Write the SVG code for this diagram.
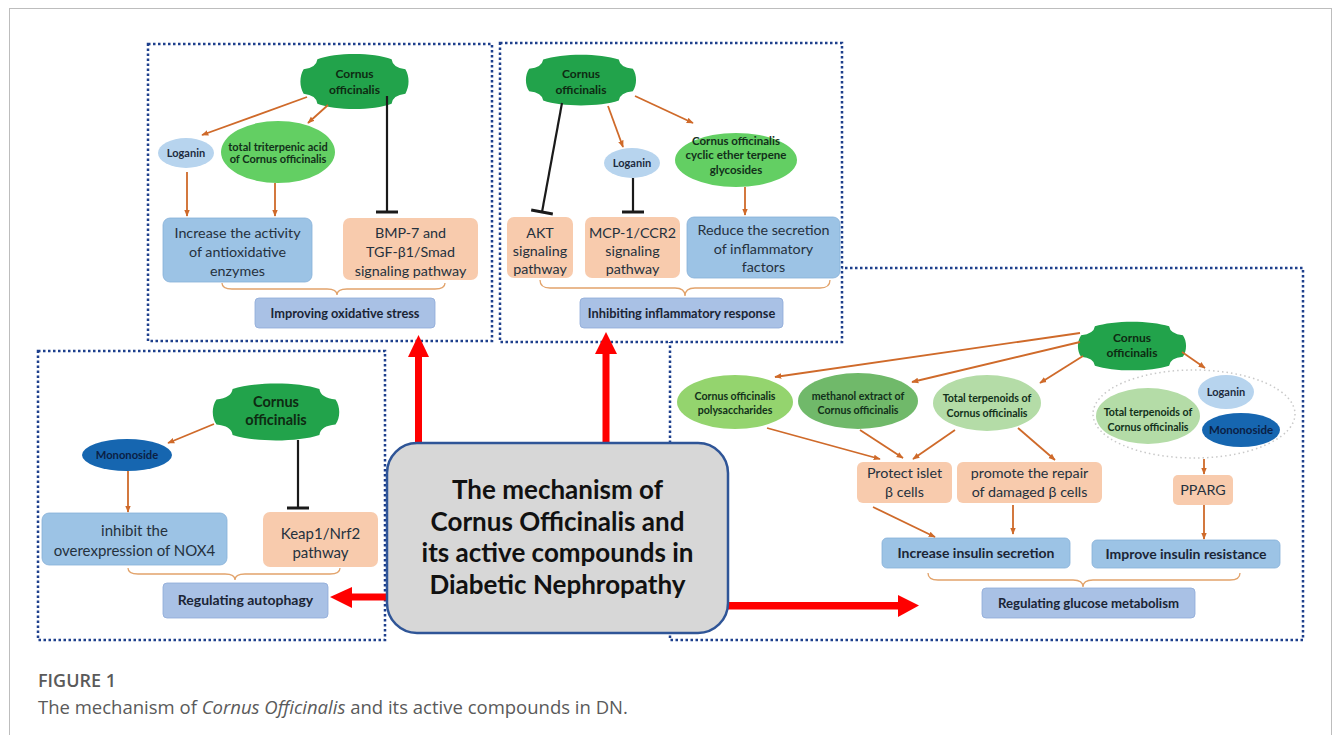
<svg xmlns="http://www.w3.org/2000/svg" xmlns:xlink="http://www.w3.org/1999/xlink" width="1333" height="735" viewBox="0 0 1333 735">
<defs>
<style>
.dot{fill:#fff;stroke:#1d3f8c;stroke-width:2.5;stroke-dasharray:2.5 2.5}
.peach{fill:#f8cbad}
.blue{fill:#9cc3e5;stroke:#86b0d8;stroke-width:0.8}
.lab{fill:#a9c1e5;stroke:#8eaad8;stroke-width:0.8}
.ff{font-family:Lato,"Liberation Sans",sans-serif;text-anchor:middle}
.t{font-size:14.3px;fill:#25313d}
.t2{font-size:15px;fill:#25313d}
.b{font-size:12.8px;font-weight:700;fill:#1b2535}
.s{font-size:11px;font-weight:700;fill:#12301a}
.sb{font-size:11px;font-weight:700;fill:#1d2b3f}
.co{font-size:12px;font-weight:700;fill:#0e2a12}
.oa{stroke:#cf6a2a;stroke-width:1.8;fill:none;marker-end:url(#ao)}
.inh{stroke:#1a1a1a;stroke-width:2.2;fill:none;marker-end:url(#tb)}
.br{stroke:#e2a36b;stroke-width:1.3;fill:none}
.red{fill:#ff0000}
.cof{fill:#22a34b}
.big{font-size:26px;font-weight:700;fill:#111}
.cap{font-family:"Open Sans","Liberation Sans",sans-serif;fill:#5a5a5a}
</style>
<marker id="ao" viewBox="0 0 10 10" refX="9" refY="5" markerWidth="7" markerHeight="7" markerUnits="userSpaceOnUse" orient="auto"><path d="M0,1 L10,5 L0,9 z" fill="#cf6a2a"/></marker>
<marker id="tb" viewBox="0 0 4 22" refX="2" refY="11" markerWidth="4" markerHeight="22" markerUnits="userSpaceOnUse" orient="auto"><rect x="0.5" y="0" width="3" height="22" fill="#1a1a1a"/></marker>
<path id="plaque" d="M-0.7,-0.82 C-0.35,-1.08 0.35,-1.08 0.7,-0.82 Q0.72,-0.5 0.96,-0.45 C1.04,-0.2 1.04,0.2 0.96,0.45 Q0.72,0.5 0.7,0.82 C0.35,1.08 -0.35,1.08 -0.7,0.82 Q-0.72,0.5 -0.96,0.45 C-1.04,0.2 -1.04,-0.2 -0.96,-0.45 Q-0.72,-0.5 -0.7,-0.82 Z"/>
</defs>
<rect x="0" y="0" width="1333" height="735" fill="#fff"/>
<rect x="9.5" y="8.5" width="1322" height="740" fill="none" stroke="#bdbdbd" stroke-width="1"/>

<!-- panels -->
<g id="panels">
<rect class="dot" x="670" y="268" width="633" height="372"/>
<rect class="dot" x="38" y="351" width="347" height="289"/>
<rect class="dot" x="148" y="44" width="344" height="297"/>
<rect class="dot" x="500" y="43" width="342" height="299"/>
</g>

<!-- Top-left panel nodes -->
<g id="tl-co"><use xlink:href="#plaque" class="cof" transform="translate(354.5,81.5) scale(53,27)"/>
<text class="ff co" x="354.5" y="77.5">Cornus</text><text class="ff co" x="354.5" y="93.5">officinalis</text></g>
<g id="tl-loganin"><ellipse cx="186" cy="153" rx="28" ry="15" fill="#b7d4ee"/><text class="ff sb" x="186" y="157">Loganin</text></g>
<g id="tl-triterpenic"><ellipse cx="278" cy="152" rx="57" ry="31" fill="#63cf63"/>
<text class="ff s" x="278" y="151">total triterpenic acid</text><text class="ff s" x="278" y="163">of Cornus officinalis</text></g>
<g id="tl-increase"><rect class="blue" x="163" y="218" width="149" height="64" rx="7"/>
<text class="ff t" x="237.5" y="238">Increase the activity</text><text class="ff t" x="237.5" y="257">of antioxidative</text><text class="ff t" x="237.5" y="276">enzymes</text></g>
<g id="tl-bmp"><rect class="peach" x="343" y="218" width="135" height="62" rx="7"/>
<text class="ff t" x="410.5" y="238">BMP-7 and</text><text class="ff t" x="410.5" y="257">TGF-β1/Smad</text><text class="ff t" x="410.5" y="276">signaling pathway</text></g>
<g id="tl-label"><rect class="lab" x="255" y="298" width="180" height="30" rx="4"/><text class="ff b" x="345" y="317.5">Improving oxidative stress</text></g>

<!-- Top-middle panel nodes -->
<g id="tm-co"><use xlink:href="#plaque" class="cof" transform="translate(581,80) scale(54,25)"/>
<text class="ff co" x="581" y="77.5">Cornus</text><text class="ff co" x="581" y="94">officinalis</text></g>
<g id="tm-loganin"><ellipse cx="632" cy="163" rx="28" ry="15" fill="#b7d4ee"/><text class="ff sb" x="632" y="167">Loganin</text></g>
<g id="tm-cyclic"><ellipse cx="736" cy="160" rx="61" ry="27" fill="#63cf63"/>
<text class="ff s" style="font-size:11.5px" x="736" y="144.5">Cornus officinalis</text><text class="ff s" style="font-size:11.5px" x="736" y="159">cyclic ether terpene</text><text class="ff s" style="font-size:11.5px" x="736" y="174">glycosides</text></g>
<g id="tm-akt"><rect class="peach" x="507" y="217" width="66" height="61" rx="7"/>
<text class="ff t" x="540" y="238">AKT</text><text class="ff t" x="540" y="256">signaling</text><text class="ff t" x="540" y="273.5">pathway</text></g>
<g id="tm-mcp"><rect class="peach" x="585" y="217" width="95" height="61" rx="7"/>
<text class="ff t" x="632.5" y="238">MCP-1/CCR2</text><text class="ff t" x="632.5" y="256">signaling</text><text class="ff t" x="632.5" y="273.5">pathway</text></g>
<g id="tm-reduce"><rect class="blue" x="687" y="217" width="153" height="61" rx="7"/>
<text class="ff t" x="763.5" y="235">Reduce the secretion</text><text class="ff t" x="763.5" y="253.5">of inflammatory</text><text class="ff t" x="763.5" y="272">factors</text></g>
<g id="tm-label"><rect class="lab" x="580" y="298" width="203" height="30" rx="4"/><text class="ff b" x="681.5" y="317.5">Inhibiting inflammatory response</text></g>

<!-- Bottom-left panel nodes -->
<g id="bl-co"><use xlink:href="#plaque" class="cof" transform="translate(276,412) scale(62,28)"/>
<text class="ff co" style="font-size:14.5px" x="276" y="407">Cornus</text><text class="ff co" style="font-size:14.5px" x="276" y="425">officinalis</text></g>
<g id="bl-mononoside"><ellipse cx="127" cy="455" rx="45" ry="16" fill="#1666b0"/><text class="ff sb" style="fill:#0b1f45;font-size:11.2px" x="127" y="459">Mononoside</text></g>
<g id="bl-inhibit"><rect class="blue" x="42" y="513" width="185" height="52" rx="7"/>
<text class="ff t2" x="134.5" y="535.5">inhibit the</text><text class="ff t2" x="134.5" y="555.5">overexpression of NOX4</text></g>
<g id="bl-keap"><rect class="peach" x="263" y="512" width="115" height="55" rx="7"/>
<text class="ff t2" x="320.5" y="538.5">Keap1/Nrf2</text><text class="ff t2" x="320.5" y="557.5">pathway</text></g>
<g id="bl-label"><rect class="lab" x="163" y="583" width="165" height="35" rx="4"/><text class="ff b" style="font-size:14px" x="245.5" y="605">Regulating autophagy</text></g>

<!-- Right panel nodes -->
<g id="r-co"><use xlink:href="#plaque" class="cof" transform="translate(1132,346) scale(53,24)"/>
<text class="ff co" x="1132" y="341.5">Cornus</text><text class="ff co" x="1132" y="356.5">officinalis</text></g>
<g id="r-poly"><ellipse cx="735" cy="402" rx="58" ry="27" fill="#94d46e"/>
<text class="ff s" style="font-size:10.6px" x="735" y="400">Cornus officinalis</text><text class="ff s" style="font-size:10.6px" x="735" y="414">polysaccharides</text></g>
<g id="r-methanol"><ellipse cx="858" cy="401" rx="60" ry="28" fill="#70b96a"/>
<text class="ff s" style="font-size:10.6px" x="858" y="400">methanol extract of</text><text class="ff s" style="font-size:10.6px" x="858" y="414">Cornus officinalis</text></g>
<g id="r-terp"><ellipse cx="987" cy="403" rx="54" ry="28" fill="#b4dca7"/>
<text class="ff s" style="font-size:10.6px" x="987" y="402">Total terpenoids of</text><text class="ff s" style="font-size:10.6px" x="987" y="417">Cornus officinalis</text></g>
<g id="r-group"><ellipse cx="1194" cy="414" rx="101" ry="44" fill="none" stroke="#c9c9c9" stroke-width="1.5" stroke-dasharray="1.5 3"/>
<ellipse cx="1148" cy="416" rx="52" ry="28" fill="#b4dca7"/>
<text class="ff s" style="font-size:10.6px" x="1148" y="416">Total terpenoids of</text><text class="ff s" style="font-size:10.6px" x="1148" y="431">Cornus officinalis</text>
<ellipse cx="1226" cy="392" rx="28" ry="17" fill="#b7d4ee"/><text class="ff sb" x="1226" y="396">Loganin</text>
<ellipse cx="1241" cy="430" rx="39" ry="17" fill="#1666b0"/><text class="ff sb" style="fill:#0b1f45;font-size:11.5px" x="1241" y="434">Mononoside</text></g>
<g id="r-protect"><rect class="peach" x="857" y="462" width="95" height="41" rx="6"/>
<text class="ff t" x="904.5" y="478">Protect islet</text><text class="ff t" x="904.5" y="497">β cells</text></g>
<g id="r-promote"><rect class="peach" x="957" y="462" width="145" height="41" rx="6"/>
<text class="ff t" x="1029.5" y="478">promote the repair</text><text class="ff t" x="1029.5" y="497">of damaged β cells</text></g>
<g id="r-pparg"><rect class="peach" x="1173" y="475" width="60" height="30" rx="5"/><text class="ff t" x="1203" y="495">PPARG</text></g>
<g id="r-secretion"><rect class="blue" x="882" y="538" width="188" height="30" rx="5"/><text class="ff b" style="font-size:14px" x="976" y="558">Increase insulin secretion</text></g>
<g id="r-resistance"><rect class="blue" x="1092" y="540" width="188" height="28" rx="5"/><text class="ff b" style="font-size:14px" x="1186" y="559">Improve insulin resistance</text></g>
<g id="r-label"><rect class="lab" x="982" y="588" width="213" height="30" rx="4"/><text class="ff b" style="font-size:13.2px" x="1088.5" y="607.5">Regulating glucose metabolism</text></g>

<!-- Connectors -->
<g id="connectors">
<path class="oa" d="M307,97 L202,135"/>
<path class="oa" d="M328,105 L308,123"/>
<path class="oa" d="M187,172 L187,216"/>
<path class="oa" d="M275,183 L275,216"/>
<path class="inh" d="M387,96 L387,212"/>

<path class="inh" d="M562,103 L542,212"/>
<path class="oa" d="M608,106 L623,147"/>
<path class="oa" d="M635,96 L693,123"/>
<path class="inh" d="M633,178 L633,212"/>
<path class="oa" d="M745,187 L745,215"/>

<path class="oa" d="M214,424 L168,443"/>
<path class="inh" d="M298,440 L298,508"/>
<path class="oa" d="M128,471 L128,512"/>

<path class="oa" d="M1080,333 L775,377"/>
<path class="oa" d="M1080,342 L912,382"/>
<path class="oa" d="M1083,356 L1040,383"/>
<path class="oa" d="M1182,352 L1205,368"/>
<path class="oa" d="M767,428 L880,459"/>
<path class="oa" d="M860,430 L903,458"/>
<path class="oa" d="M955,430 L913,459"/>
<path class="oa" d="M1018,428 L1055,460"/>
<path class="oa" d="M873,507 L935,537"/>
<path class="oa" d="M1013,505 L1013,534"/>
<path class="oa" d="M1204,459 L1204,474"/>
<path class="oa" d="M1204,505 L1204,539"/>

<path class="br" d="M222,283 Q222,289 232,289 L327,289 Q337,289 337,295 Q337,289 347,289 L435,289 Q445,289 445,283"/>
<path class="br" d="M540,280 Q540,288 550,288 L675,288 Q685,288 685,296 Q685,288 695,288 L820,288 Q830,288 830,280"/>
<path class="br" d="M128,568 Q128,574 138,574 L225,574 Q235,574 235,580 Q235,574 245,574 L330,574 Q340,574 340,568"/>
<path class="br" d="M928,573 Q928,580 938,580 L1073,580 Q1083,580 1083,587 Q1083,580 1093,580 L1230,580 Q1240,580 1240,573"/>

<rect class="red" x="415" y="355" width="7" height="90"/>
<polygon class="red" points="408,357 418.5,335 429,357"/>
<rect class="red" x="602.5" y="352" width="7" height="93"/>
<polygon class="red" points="595,354 606,332 617,354"/>
<rect class="red" x="350" y="593.5" width="40" height="7"/>
<polygon class="red" points="352,587 330,597 352,608"/>
<rect class="red" x="725" y="602" width="175" height="7.5"/>
<polygon class="red" points="898,595 919,605.5 898,617"/>
</g>

<!-- Center node -->
<g id="center">
<rect x="387" y="443" width="341" height="190" rx="30" fill="#d7d7d7" stroke="#2f5597" stroke-width="2.5"/>
<text class="ff big" x="557.5" y="499">The mechanism of</text>
<text class="ff big" x="557.5" y="531">Cornus Officinalis and</text>
<text class="ff big" x="557.5" y="562">its active compounds in</text>
<text class="ff big" x="557.5" y="594">Diabetic Nephropathy</text>
</g>

<!-- Caption -->
<g id="caption">
<text class="cap" x="38" y="687" style="font-size:18px;font-weight:600">FIGURE 1</text>
<text class="cap" x="38" y="713.5" style="font-size:18.5px">The mechanism of <tspan font-style="italic">Cornus Officinalis</tspan> and its active compounds in DN.</text>
</g>
</svg>
